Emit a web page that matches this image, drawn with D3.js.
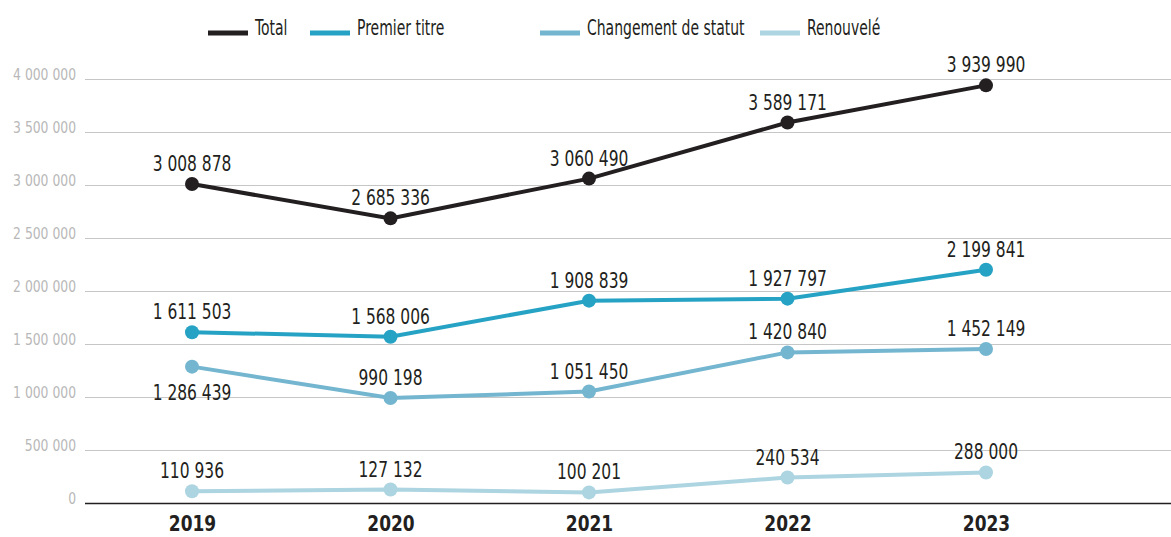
<!DOCTYPE html>
<html>
<head>
<meta charset="utf-8">
<script src="https://cdn.jsdelivr.net/npm/d3@7"></script>
<style>
  body { margin: 0; background: #fff; }
  svg { display: block; }
  svg text { font-family: "DejaVu Sans", sans-serif; font-stretch: condensed; }
</style>
</head>
<body>
<svg id="chart" width="1171" height="537"></svg>
<script>
  'use strict';

  var years = ["2019", "2020", "2021", "2022", "2023"];
  var total = [3008878, 2685336, 3060490, 3589171, 3939990];
  var premierTitre = [1611503, 1568006, 1908839, 1927797, 2199841];
  var changementStatut = [1286439, 990198, 1051450, 1420840, 1452149];
  var renouvele = [110936, 127132, 100201, 240534, 288000];
  var yTicks = [0, 500000, 1000000, 1500000, 2000000, 2500000, 3000000, 3500000, 4000000];

  var series = [
    { name: "Total", values: total, color: "#231f20" },
    { name: "Premier titre", values: premierTitre, color: "#26a3c4" },
    { name: "Changement de statut", values: changementStatut, color: "#74b6cf" },
    { name: "Renouvelé", values: renouvele, color: "#acd4e1" }
  ];

  var svg = d3.select("#chart");

  var x = d3.scalePoint().domain(years).range([192, 986]);
  var y = d3.scaleLinear().domain([0, 4000000]).range([503, 79]);

  var fmt = function(v) { return d3.format(",")(v).replace(/,/g, " "); };

  // squeeze text horizontally, the original uses a condensed face
  var tickSx = 0.86, labelSx = 0.82, legendSx = 0.74, yearSx = 0.86;

  // gridlines + y labels
  var yAxis = d3.axisLeft(y).tickValues(yTicks).tickSize(0).tickFormat(fmt);
  var gy = svg.append("g").attr("transform", "translate(85,0)").call(yAxis);
  gy.select(".domain").remove();
  gy.selectAll("text")
    .attr("font-family", null)
    .attr("x", -9 / tickSx)
    .attr("transform", "scale(" + tickSx + ",1)")
    .attr("font-size", 16).attr("fill", "#b8b8b8").attr("dy", "0.05em");
  gy.selectAll(".tick").append("line")
    .attr("x1", 0).attr("x2", 1171 - 85)
    .attr("stroke", function(d) { return d === 0 ? "#231f20" : "#c6c6c6"; })
    .attr("stroke-width", function(d) { return d === 0 ? 1.5 : 1.2; });

  // x labels
  var xAxis = d3.axisBottom(x).tickSize(0).tickPadding(0);
  var gx = svg.append("g").attr("transform", "translate(0,531)").call(xAxis);
  gx.select(".domain").remove();
  gx.selectAll("text")
    .attr("font-family", null)
    .attr("transform", "scale(" + yearSx + ",1)")
    .attr("font-size", 22).attr("font-weight", "bold").attr("fill", "#231f20")
    .attr("dy", 0);

  var line = d3.line()
    .x(function(d, i) { return x(years[i]); })
    .y(function(d) { return y(d); });

  series.slice().reverse().forEach(function(s) {
    var g = svg.append("g");
    g.append("path")
      .attr("d", line(s.values))
      .attr("fill", "none")
      .attr("stroke", s.color)
      .attr("stroke-width", 4);
    g.selectAll("circle").data(s.values).enter().append("circle")
      .attr("cx", function(d, i) { return x(years[i]); })
      .attr("cy", function(d) { return y(d); })
      .attr("r", 7)
      .attr("fill", s.color);
    g.selectAll("text").data(s.values).enter().append("text")
      .attr("transform", function(d, i) {
        // the 2019 "Changement de statut" label sits under its point
        var ty = (s.name === "Changement de statut" && i === 0) ? y(d) + 33 : y(d) - 13;
        return "translate(" + x(years[i]) + "," + ty + ") scale(" + labelSx + ",1)";
      })
      .attr("text-anchor", "middle")
      .attr("font-size", 21)
      .attr("fill", "#231f20")
      .text(fmt);
  });

  // legend
  var legendX = [208, 310, 540, 760];
  var legend = svg.append("g");
  series.forEach(function(s, i) {
    legend.append("line")
      .attr("x1", legendX[i]).attr("x2", legendX[i] + 40)
      .attr("y1", 33).attr("y2", 33)
      .attr("stroke", s.color).attr("stroke-width", 5);
    legend.append("text")
      .attr("transform", "translate(" + (legendX[i] + 47) + ",35) scale(" + legendSx + ",1)")
      .attr("font-size", 21).attr("fill", "#231f20")
      .text(s.name);
  });
</script>
</body>
</html>
